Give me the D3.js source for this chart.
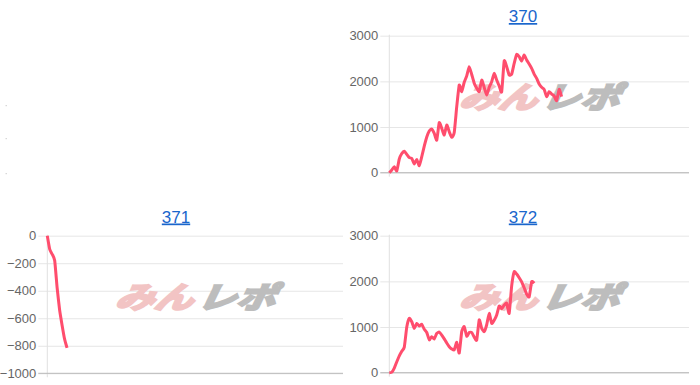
<!DOCTYPE html>
<html lang="ja">
<head>
<meta charset="utf-8">
<title>370 / 371 / 372</title>
<script src="https://d3js.org/d3.v7.min.js"></script>
<style>
  body { margin: 0; background: #fff; }
  svg { display: block; font-family: "Liberation Sans", Arial, sans-serif; }
  .title { fill: #1a66cc; font-size: 17px; text-decoration: underline; }
  .tick text { fill: #666; font-size: 13px; }
  .tick line { stroke: #e6e6e6; }
</style>
</head>
<body>
<script>
// chart titles
var titles = ["370", "371", "372"];

// x domain: number of steps on the shared x axis
var xSteps = 120;

// cumulative values per machine
var values370 = [0, 60, 131, 40, 300, 420, 470, 400, 330, 314, 190, 292, 153, 350, 580, 780,
  912, 956, 861, 715, 1095, 971, 825, 1044, 898, 774, 880, 1445, 1920, 1774, 1980, 2120,
  2321, 2150, 1960, 1850, 1774, 2029, 1869, 1700, 1869, 1993, 2175, 2029, 1898, 1774,
  2445, 2321, 2139, 2160, 2394, 2591, 2540, 2445, 2577, 2467, 2380, 2285, 2160, 2066,
  1942, 1869, 1825, 1664, 1774, 1723, 1680, 1577, 1825, 1664];
var values371 = [0, -100, -135, -180, -380, -540, -650, -750, -815];
var values372 = [0, 10, 100, 240, 370, 470, 560, 1000, 1190, 1115, 970, 1080, 1020, 1060,
  950, 880, 720, 790, 740, 860, 890, 825, 740, 650, 570, 520, 500, 665, 430, 900, 1010,
  800, 880, 880, 780, 715, 1155, 970, 900, 1050, 1300, 1080, 1150, 1265, 1460, 1400,
  1480, 1520, 1300, 1900, 2210, 2160, 2080, 1990, 1860, 1720, 1660, 1990, 1960];

// y tick labels
var ticksPos = [0, 1000, 2000, 3000];
var ticksNeg = [0, -200, -400, -600, -800, -1000];

var W = 700, H = 385;
var svg = d3.select("body").append("svg").attr("width", W).attr("height", H);

var panels = [
  { title: titles[0], data: values370, ticks: ticksPos, domain: [0, 3000],
    cx: 523, ty: 22, left: 389.3, right: 689, top: 35.7, bottom: 172.7 },
  { title: titles[1], data: values371, ticks: ticksNeg, domain: [-1000, 0],
    cx: 176, ty: 222.5, left: 47.3, right: 343, top: 235.7, bottom: 373.3 },
  { title: titles[2], data: values372, ticks: ticksPos, domain: [0, 3000],
    cx: 523, ty: 222.5, left: 389.3, right: 689, top: 235.7, bottom: 372.7 }
];

// faint stubs of an off-screen chart at the far left
svg.selectAll(".stub").data([105, 138, 173]).enter().append("rect")
  .attr("x", 5.5).attr("y", function(d) { return d; })
  .attr("width", 1.5).attr("height", 1.2).attr("fill", "#d8d8d8");

panels.forEach(function(p) {
  var w = p.right - p.left;
  var x = d3.scaleLinear().domain([0, xSteps]).range([p.left, p.right]);
  var y = d3.scaleLinear().domain(p.domain).range([p.bottom, p.top]);

  svg.append("text").attr("class", "title")
    .attr("x", p.cx).attr("y", p.ty).attr("text-anchor", "middle")
    .text(p.title);

  // gridlines
  var grid = svg.append("g").attr("transform", "translate(" + p.left + ",0)")
    .call(d3.axisLeft(y).tickValues(p.ticks).tickSize(-w).tickFormat(""));
  grid.select(".domain").remove();

  // labels + tick marks
  var ax = svg.append("g").attr("transform", "translate(" + p.left + ",0)")
    .call(d3.axisLeft(y).tickValues(p.ticks).tickSize(9).tickPadding(2)
      .tickFormat(d3.format("d")));
  ax.select(".domain").remove();
  ax.selectAll("text").style("font-family", "'Liberation Sans', Arial, sans-serif");

  // axis lines
  svg.append("line").attr("x1", p.left).attr("x2", p.left)
    .attr("y1", p.top - 1).attr("y2", p.bottom + 4)
    .attr("stroke", "#e0e0e0");
  svg.append("line").attr("x1", p.left - 9).attr("x2", p.right)
    .attr("y1", y(p.domain[0])).attr("y2", y(p.domain[0]))
    .attr("stroke", "#b8b8b8");

  // watermark
  var mx = (p.left + p.right) / 2 + 6, my = (p.top + p.bottom) / 2 - 10;
  var wm = svg.append("g")
    .attr("transform", "translate(" + mx + "," + my + ") scale(1.08,0.82) skewX(-20)")
    .style("font-family", "'Noto Sans CJK JP', sans-serif")
    .style("font-weight", 700).style("font-size", "36px")
    .attr("stroke-width", 3).attr("stroke-linejoin", "miter");
  wm.append("text").attr("x", -2).attr("y", 17).attr("text-anchor", "end")
    .attr("fill", "#f2c4c4").attr("stroke", "#f2c4c4").text("みん");
  wm.append("text").attr("x", 2).attr("y", 17).attr("text-anchor", "start")
    .attr("fill", "#bdbdbd").attr("stroke", "#bdbdbd").text("レポ");

  // data line
  var line = d3.line()
    .x(function(d, i) { return x(i); })
    .y(function(d) { return y(d); })
    .curve(d3.curveCardinal.tension(0.5));
  svg.append("path").datum(p.data)
    .attr("d", line)
    .attr("fill", "none")
    .attr("stroke", "#ff4d6d")
    .attr("stroke-width", 3)
    .attr("stroke-linejoin", "round");
});
</script>
</body>
</html>
